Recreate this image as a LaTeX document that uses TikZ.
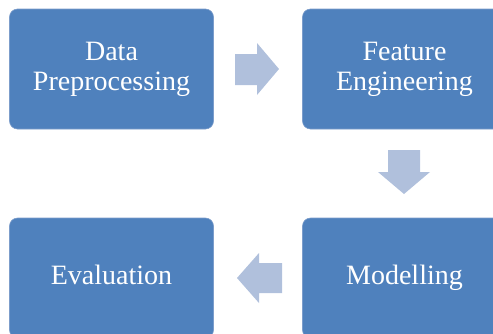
\documentclass[tikz,border=0pt]{standalone}
\usepackage{fontspec}
\setmainfont{Liberation Serif}
\definecolor{boxblue}{HTML}{4F81BD}
\definecolor{boxline}{HTML}{7C9DCB}
\definecolor{arrowblue}{HTML}{B0C0DC}
\begin{document}
\begin{tikzpicture}[x=1pt,y=-1pt,
  stagebox/.style={draw=boxline,line width=0.6pt,fill=boxblue,rounded corners=8pt,
    minimum width=204pt,minimum height=120pt,inner sep=0pt,text=white,
    align=center,font=\fontsize{28}{30}\selectfont},
  blockarrow/.style={fill=arrowblue,draw=none}]
\useasboundingbox (0,0) rectangle (493,333);
\clip (0,0) rectangle (493,333);
\node[stagebox] (dp) at (111.5,69) {\strut Data\\\strut Preprocessing};
\node[stagebox] (fe) at (404.5,69) {\strut Feature\\\strut Engineering};
\node[stagebox] (md) at (404.5,278) {\strut Modelling};
\node[stagebox] (ev) at (111.5,278) {\strut Evaluation};
% right arrow
\fill[blockarrow] (235,54) -- (257,54) -- (257,43) -- (279,69) -- (257,95) -- (257,85) -- (235,85) -- cycle;
% down arrow
\fill[blockarrow] (388,150) -- (420,150) -- (420,172) -- (430,172) -- (404,194) -- (378,172) -- (388,172) -- cycle;
% left arrow
\fill[blockarrow] (282,263) -- (259,263) -- (259,253) -- (237,278) -- (259,303) -- (259,293) -- (282,293) -- cycle;
\end{tikzpicture}
\end{document}
